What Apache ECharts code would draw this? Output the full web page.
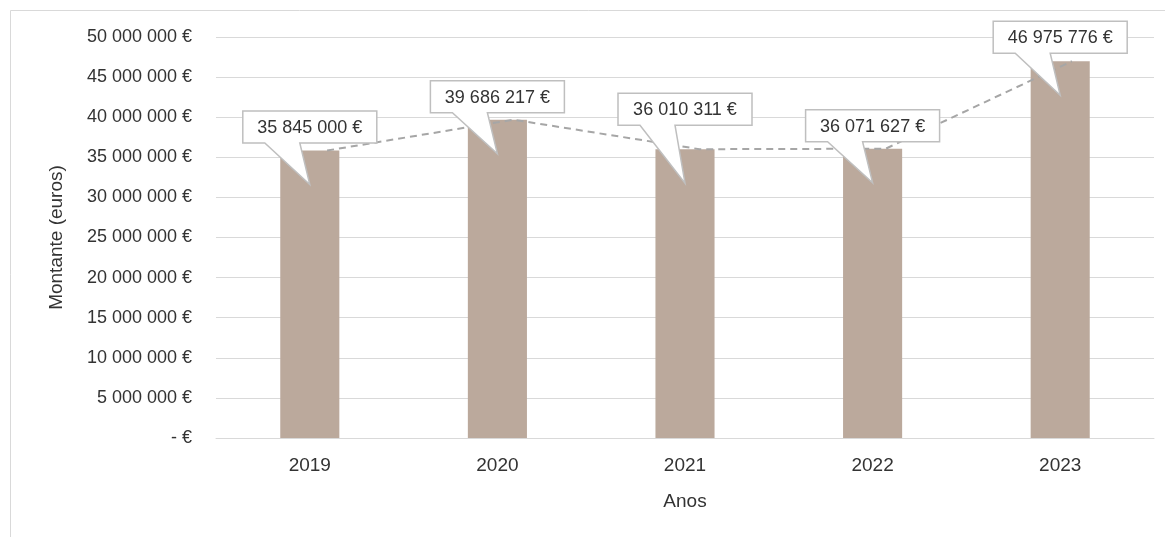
<!DOCTYPE html>
<html>
<head>
<meta charset="utf-8">
<script src="https://cdn.jsdelivr.net/npm/echarts@6/dist/echarts.min.js"></script>
<style>
html,body{margin:0;padding:0;background:#fff;}
#chart{width:1165px;height:537px;}
</style>
</head>
<body>
<div id="chart"></div>
<script>
// ---- data ----
var categories = ['2019', '2020', '2021', '2022', '2023'];
var amounts = [35845000, 39686217, 36010311, 36071627, 46975776];
var yTicks = [0, 5000000, 10000000, 15000000, 20000000, 25000000, 30000000, 35000000, 40000000, 45000000, 50000000];
var xAxisName = 'Anos';
var yAxisName = 'Montante (euros)';

// ---- layout (not data) ----
var calloutLift = [7.5, 7, 24, 7, 8];

function fmt(v) {
  if (v === 0) return '- €';
  return String(Math.round(v)).replace(/\B(?=(\d{3})+(?!\d))/g, ' ') + ' €';
}

var FONT = '"Liberation Sans", Arial, sans-serif';
var TXT = '#333333';
var yMin = yTicks[0], yMax = yTicks[yTicks.length - 1], yStep = yTicks[1] - yTicks[0];

var chart = echarts.init(document.getElementById('chart'));
chart.setOption({
  backgroundColor: '#fff',
  animation: false,
  textStyle: { fontFamily: FONT },
  graphic: [{
    type: 'rect', z: -10, silent: true,
    shape: { x: 10.5, y: 10.5, width: 1300, height: 700 },
    style: { fill: 'none', stroke: '#D9D9D9', lineWidth: 1 }
  }],
  grid: [
    { left: 216, top: 37, width: 938, height: 401 },
    { left: 234, top: 37, width: 938, height: 401 }
  ],
  xAxis: [{
    type: 'category', gridIndex: 0, data: categories,
    name: xAxisName, nameLocation: 'middle', nameGap: 54,
    nameTextStyle: { color: TXT, fontSize: 19, fontFamily: FONT },
    axisLine: { lineStyle: { color: '#D9D9D9', width: 1 } },
    axisTick: { show: false },
    axisLabel: { color: TXT, fontSize: 19, margin: 18, fontFamily: FONT }
  }, {
    type: 'category', gridIndex: 1, data: categories, show: false
  }],
  yAxis: [{
    type: 'value', gridIndex: 0, min: yMin, max: yMax, interval: yStep,
    name: yAxisName, nameLocation: 'middle', nameGap: 150,
    nameTextStyle: { color: TXT, fontSize: 19, fontFamily: FONT },
    axisLine: { show: false }, axisTick: { show: false },
    splitLine: { lineStyle: { color: '#D9D9D9', width: 1 } },
    axisLabel: { color: TXT, fontSize: 18, margin: 24, fontFamily: FONT, formatter: fmt }
  }, {
    type: 'value', gridIndex: 1, min: yMin, max: yMax, interval: yStep, show: false
  }],
  series: [{
    type: 'bar', xAxisIndex: 0, yAxisIndex: 0,
    data: amounts, barWidth: '31.5%',
    itemStyle: { color: '#BBA99C' }, z: 2
  }, {
    type: 'line', xAxisIndex: 1, yAxisIndex: 1,
    data: amounts, symbol: 'none', z: 3,
    lineStyle: { color: '#A6A6A6', width: 2, type: [7, 5] }
  }, {
    type: 'custom', xAxisIndex: 0, yAxisIndex: 0, z: 5, clip: false,
    data: amounts.map(function (v, i) { return [i, v]; }),
    encode: { x: 0, y: 1 },
    renderItem: function (params, api) {
      var i = api.value(0), v = api.value(1);
      var p = api.coord([i, v]);
      var cx = p[0], ty = p[1];
      var w = 134, h = 32;
      var bb = ty - calloutLift[i], bt = bb - h;
      var l = cx - w / 2, r = cx + w / 2;
      var tipY = ty + 34;
      return {
        type: 'group',
        children: [{
          type: 'polygon',
          shape: { points: [[l, bt], [r, bt], [r, bb], [cx - 10, bb], [cx, tipY], [cx - 45, bb], [l, bb]] },
          style: { fill: '#FFFFFF', stroke: '#BFBFBF', lineWidth: 1.5 }
        }, {
          type: 'text',
          style: {
            x: cx, y: bt + h / 2 + 1, text: fmt(v),
            fill: TXT, font: '18px ' + FONT,
            align: 'center', verticalAlign: 'middle'
          }
        }]
      };
    }
  }]
});
</script>
</body>
</html>
